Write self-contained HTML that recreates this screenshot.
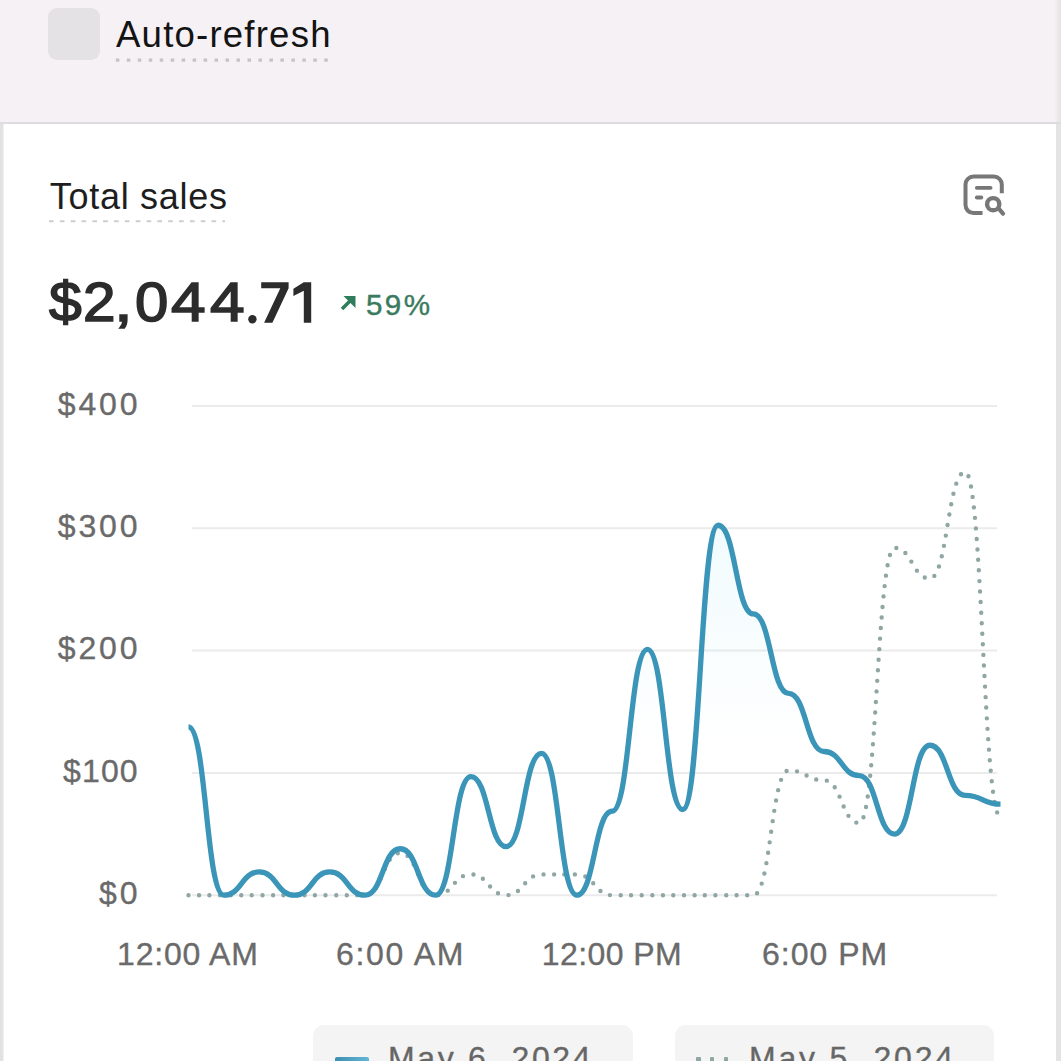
<!DOCTYPE html>
<html><head><meta charset="utf-8">
<style>
html,body{margin:0;padding:0;}
body{width:1061px;height:1061px;overflow:hidden;position:relative;background:#fff;font-family:"Liberation Sans",sans-serif;}
.abs{position:absolute;white-space:nowrap;}
#top{left:0;top:0;width:1061px;height:122px;background:#f6f1f4;}
#topline{left:0;top:122px;width:1061px;height:2px;background:#dfdcdf;}
#lstrip{left:0;top:124px;width:3.5px;height:937px;background:linear-gradient(90deg,#e2e2e2 60%,rgba(226,226,226,0.3));}
#rstrip{left:1055.5px;top:124px;width:5.5px;height:937px;background:#e4e4e4;}
#rstripT{left:1054px;top:0;width:7px;height:122px;background:linear-gradient(90deg,rgba(232,229,232,0),#e8e5e8 75%);}
#cb{left:48px;top:8px;width:52px;height:52px;border-radius:9px;background:#e4e2e4;}
#auto{left:115px;top:0;font-size:36.6px;line-height:1;color:#141414;}
.lab{font-size:32px;color:#6a6a6a;line-height:1;-webkit-text-stroke:0.35px #6a6a6a;}
.big{font-size:56px;line-height:1;color:#2c2c2c;-webkit-text-stroke:1.6px #2c2c2c;transform-origin:0 0;}
.xl{font-size:32px;color:#6a6a6a;line-height:1;-webkit-text-stroke:0.35px #6a6a6a;}
</style></head><body>
<div id="top" class="abs"></div>
<div id="topline" class="abs"></div>
<div id="lstrip" class="abs"></div>
<div id="rstrip" class="abs"></div>
<div id="rstripT" class="abs"></div>
<div id="cb" class="abs"></div>
<div id="auto" class="abs" style="left:116px;top:17.1px;letter-spacing:1.2px">Auto-refresh</div>
<svg class="abs" style="left:0;top:0" width="1061" height="1061">
  <line x1="115.85" y1="60.2" x2="330" y2="60.2" stroke="#c6c3c6" stroke-width="3.2" stroke-dasharray="3.5 7.47"/>
  <line x1="48.95" y1="221.3" x2="225" y2="221.3" stroke="#cdcdcd" stroke-width="2" stroke-dasharray="4.7 6.14"/>
  <g stroke="#ebebeb" stroke-width="2">
    <line x1="192" y1="406.0" x2="997" y2="406.0"/>
    <line x1="192" y1="528.3" x2="997" y2="528.3"/>
    <line x1="192" y1="650.6" x2="997" y2="650.6"/>
    <line x1="192" y1="772.9" x2="997" y2="772.9"/>
    <line x1="192" y1="895.2" x2="997" y2="895.2"/>
  </g>
  <defs>
    <linearGradient id="ag" x1="0" y1="0" x2="0" y2="1" gradientUnits="objectBoundingBox">
      <stop offset="0" stop-color="#6fd3ea" stop-opacity="0.10"/>
      <stop offset="0.6" stop-color="#6fd3ea" stop-opacity="0.0"/>
    </linearGradient>
  </defs>
  <path d="M188.50,726.79 C206.15,726.79 206.15,895.20 223.80,895.20 C241.46,895.20 241.46,871.96 259.11,871.96 C276.76,871.96 276.76,895.20 294.41,895.20 C312.07,895.20 312.07,871.96 329.72,871.96 C347.37,871.96 347.37,895.20 365.02,895.20 C382.67,895.20 382.67,848.73 400.33,848.73 C417.98,848.73 417.98,895.20 435.63,895.20 C453.28,895.20 453.28,776.57 470.93,776.57 C488.59,776.57 488.59,846.65 506.24,846.65 C523.89,846.65 523.89,753.33 541.54,753.33 C559.20,753.33 559.20,895.20 576.85,895.20 C594.50,895.20 594.50,811.18 612.15,811.18 C629.80,811.18 629.80,649.38 647.46,649.38 C665.11,649.38 665.11,809.59 682.76,809.59 C700.41,809.59 700.41,525.24 718.07,525.24 C735.72,525.24 735.72,613.91 753.37,613.91 C771.02,613.91 771.02,693.41 788.67,693.41 C806.33,693.41 806.33,751.50 823.98,751.50 C841.63,751.50 841.63,775.59 859.28,775.59 C876.93,775.59 876.93,834.05 894.59,834.05 C912.24,834.05 912.24,745.26 929.89,745.26 C947.54,745.26 947.54,795.40 965.20,795.40 C982.85,795.40 982.85,804.21 1000.50,804.21 L1000.50,895.20 L188.50,895.20 Z" fill="url(#ag)" stroke="none"/>
  <path d="M188.50,895.20 C206.15,895.20 206.15,895.20 223.80,895.20 C241.46,895.20 241.46,895.20 259.11,895.20 C276.76,895.20 276.76,895.20 294.41,895.20 C312.07,895.20 312.07,895.20 329.72,895.20 C347.37,895.20 347.37,895.20 365.02,895.20 C382.67,895.20 382.67,853.01 400.33,853.01 C417.98,853.01 417.98,895.20 435.63,895.20 C453.28,895.20 453.28,874.41 470.93,874.41 C488.59,874.41 488.59,895.20 506.24,895.20 C523.89,895.20 523.89,874.41 541.54,874.41 C559.20,874.41 559.20,874.41 576.85,874.41 C594.50,874.41 594.50,895.20 612.15,895.20 C629.80,895.20 629.80,895.20 647.46,895.20 C665.11,895.20 665.11,895.20 682.76,895.20 C700.41,895.20 700.41,895.20 718.07,895.20 C735.72,895.20 735.72,895.20 753.37,895.20 C771.02,895.20 771.02,770.45 788.67,770.45 C806.33,770.45 806.33,780.24 823.98,780.24 C841.63,780.24 841.63,823.04 859.28,823.04 C876.93,823.04 876.93,547.87 894.59,547.87 C912.24,547.87 912.24,578.44 929.89,578.44 C947.54,578.44 947.54,472.04 965.20,472.04 C982.85,472.04 982.85,816.93 1000.50,816.93" fill="none" stroke="#8fa6a4" stroke-width="4.4" stroke-linecap="round" stroke-dasharray="0 10.55"/>
  <path d="M188.50,726.79 C206.15,726.79 206.15,895.20 223.80,895.20 C241.46,895.20 241.46,871.96 259.11,871.96 C276.76,871.96 276.76,895.20 294.41,895.20 C312.07,895.20 312.07,871.96 329.72,871.96 C347.37,871.96 347.37,895.20 365.02,895.20 C382.67,895.20 382.67,848.73 400.33,848.73 C417.98,848.73 417.98,895.20 435.63,895.20 C453.28,895.20 453.28,776.57 470.93,776.57 C488.59,776.57 488.59,846.65 506.24,846.65 C523.89,846.65 523.89,753.33 541.54,753.33 C559.20,753.33 559.20,895.20 576.85,895.20 C594.50,895.20 594.50,811.18 612.15,811.18 C629.80,811.18 629.80,649.38 647.46,649.38 C665.11,649.38 665.11,809.59 682.76,809.59 C700.41,809.59 700.41,525.24 718.07,525.24 C735.72,525.24 735.72,613.91 753.37,613.91 C771.02,613.91 771.02,693.41 788.67,693.41 C806.33,693.41 806.33,751.50 823.98,751.50 C841.63,751.50 841.63,775.59 859.28,775.59 C876.93,775.59 876.93,834.05 894.59,834.05 C912.24,834.05 912.24,745.26 929.89,745.26 C947.54,745.26 947.54,795.40 965.20,795.40 C982.85,795.40 982.85,804.21 1000.50,804.21" fill="none" stroke="#3a95b8" stroke-width="5.3" stroke-linecap="butt" stroke-linejoin="round"/>
  <!-- icon -->
  <g fill="none" stroke="#777" stroke-width="4" stroke-linecap="butt">
    <path d="M1001.8,193.2 V184.6 A8,8 0 0 0 993.8,176.6 H973.5 A8,8 0 0 0 965.5,184.6 V205.1 A8,8 0 0 0 973.5,213.1 H982.5"/>
  </g>
  <g fill="none" stroke="#777" stroke-width="3.8" stroke-linecap="round">
    <line x1="976.8" y1="187.8" x2="990.6" y2="187.8"/>
    <line x1="976.8" y1="197.5" x2="981.3" y2="197.5"/>
    <circle cx="993.2" cy="204.2" r="6.1" stroke-width="4.4"/>
    <line x1="999.2" y1="209.2" x2="1003" y2="213.6" stroke-width="4.2"/>
  </g>
  <!-- arrow -->
  <g stroke="#2f7d5c" stroke-width="3.6" fill="none" stroke-linecap="butt">
    <line x1="342" y1="309" x2="352" y2="299"/>
  </g>
  <path d="M343.5,296 H355.5 V308 Z" fill="#2f7d5c"/>
</svg>
<div class="abs" style="left:49.8px;top:179px;font-size:36px;line-height:1;color:#1e1e1e;letter-spacing:0.7px">Total sales</div>
<div class="abs big" style="left:48.5px;top:274.2px;transform:scaleX(1.050)">$</div>
<div class="abs big" style="left:82.7px;top:274.2px;transform:scaleX(1.044)">2</div>
<div class="abs big" style="left:113.7px;top:274.2px;transform:scaleX(1.200)">,</div>
<div class="abs big" style="left:135.4px;top:274.2px;transform:scaleX(1.070)">0</div>
<div class="abs big" style="left:171.4px;top:274.2px;transform:scaleX(1.110)">4</div>
<div class="abs big" style="left:209.9px;top:274.2px;transform:scaleX(1.110)">4</div>
<svg class="abs" style="left:0;top:0" width="400" height="400"><g fill="#2c2c2c"><circle cx="252.4" cy="319.2" r="4.2"/><path d="M261.2,282.2 H288.6 V288.3 L272.4,322.7 H264.1 L280.3,288.3 H261.2 Z"/><path d="M293.4,288.8 L303.8,282.2 H311.2 V322.7 H303.8 V290.8 L293.4,296 Z"/></g></svg>
<div class="abs" style="left:366px;top:290px;font-size:29.6px;line-height:1;color:#3b7a5f;letter-spacing:2.4px;-webkit-text-stroke:0.4px #3b7a5f">59%</div>
<div class="abs lab" style="right:920.5px;top:388px;letter-spacing:2.9px">$400</div>
<div class="abs lab" style="right:920.5px;top:510.3px;letter-spacing:2.9px">$300</div>
<div class="abs lab" style="right:920.5px;top:631.8px;letter-spacing:2.9px">$200</div>
<div class="abs lab" style="right:922.3px;top:754.9px;letter-spacing:1.1px">$100</div>
<div class="abs lab" style="right:920.5px;top:877.2px;letter-spacing:2.9px">$0</div>
<div class="abs xl" style="left:117.1px;top:938px;letter-spacing:0.8px">12:00 AM</div>
<div class="abs xl" style="left:336px;top:938px;letter-spacing:1.67px">6:00 AM</div>
<div class="abs xl" style="left:541.8px;top:938px;letter-spacing:0.43px">12:00 PM</div>
<div class="abs xl" style="left:762px;top:938px;letter-spacing:1px">6:00 PM</div>
<div class="abs" style="left:313px;top:1024.5px;width:319.5px;height:60px;border-radius:11px;background:#f4f4f4;"></div>
<div class="abs" style="left:675px;top:1025px;width:318.5px;height:60px;border-radius:11px;background:#f4f4f4;"></div>
<div class="abs" style="left:334.5px;top:1057px;width:34.5px;height:8px;border-radius:2px;background:linear-gradient(90deg,#3d8fb1,#64b6d4);"></div>
<div class="abs" style="left:696.3px;top:1056.5px;width:4.4px;height:6px;border-radius:1px;background:#8fa6a4"></div><div class="abs" style="left:710.1px;top:1056.5px;width:4.4px;height:6px;border-radius:1px;background:#8fa6a4"></div><div class="abs" style="left:723.8px;top:1056.5px;width:4.4px;height:6px;border-radius:1px;background:#8fa6a4"></div>
<div class="abs xl" style="left:388px;top:1041.5px;color:#666;letter-spacing:2.65px">May 6, 2024</div>
<div class="abs xl" style="left:749px;top:1041.5px;color:#666;letter-spacing:2.8px">May 5, 2024</div>
</body></html>
